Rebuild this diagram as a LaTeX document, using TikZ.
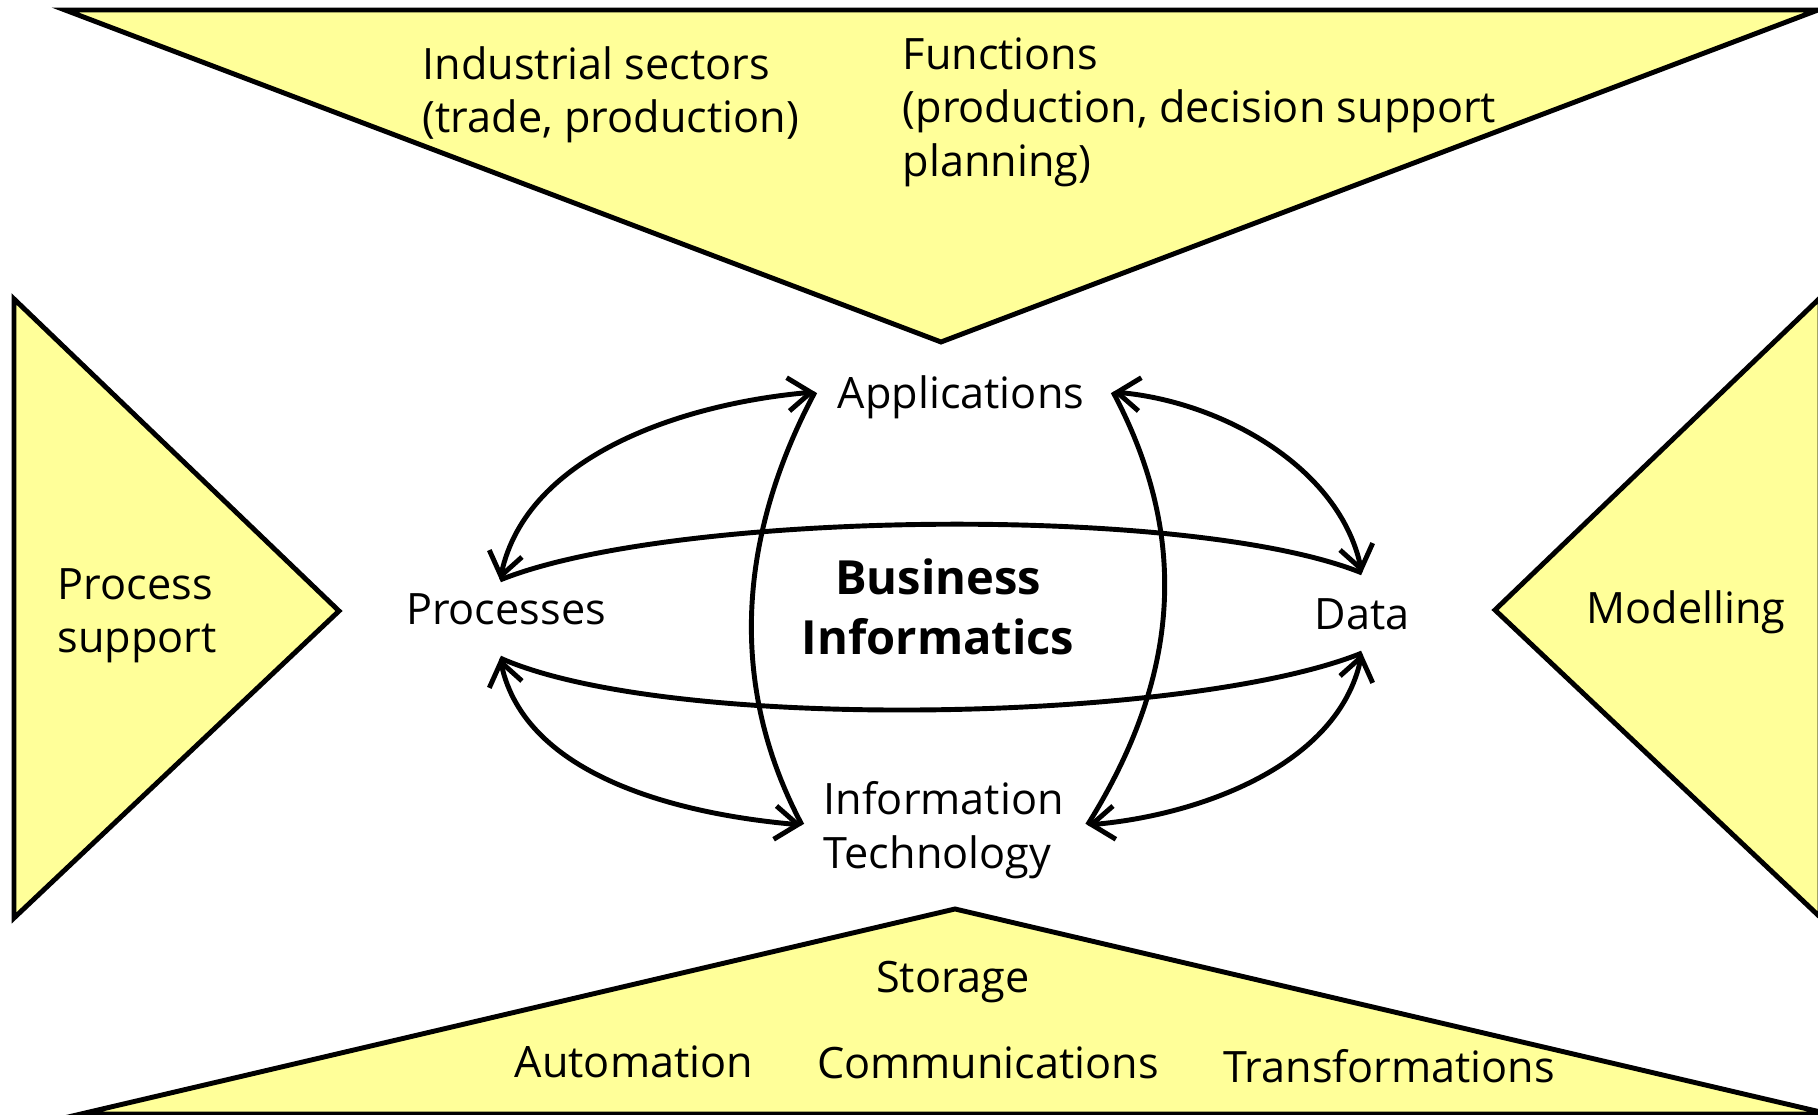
\documentclass[tikz,border=0pt]{standalone}
\usepackage{fontspec}
\setmainfont{Open Sans}
\usetikzlibrary{arrows.meta}
\definecolor{wedgecolor}{RGB}{255, 255, 153}

\begin{document}
\begin{tikzpicture}[
    >={Straight Barb[length=6.5pt, width=9.5pt]},
    wedge/.style={draw, line width=1.4pt, fill=wedgecolor, line join=miter},
    tag/.style={inner sep=0pt, align=left, font=\fontsize{12.3}{15.2}\selectfont},
    pillar/.style={inner sep=0pt, align=left, font=\fontsize{12.3}{15.2}\selectfont},
    core/.style={inner sep=0pt, align=center, font=\fontsize{13.4}{17}\selectfont\bfseries},
    arrow/.style={<->, line width=1.4pt},
    link/.style={line width=1.4pt}
]
\useasboundingbox (0,0) rectangle (18.18,11.15);

% Outer wedges
\draw[wedge] (0.65,11.05) -- (18.18,11.05) -- (9.41,7.73) -- cycle;
\draw[wedge] (0.14,8.16) -- (3.39,5.04) -- (0.14,1.97) -- cycle;
\draw[wedge] (18.20,8.17) -- (14.95,5.05) -- (18.20,1.98) -- cycle;
\draw[wedge] (0.81,0.01) -- (9.55,2.06) -- (18.29,0.01) -- cycle;

% Wedge texts
\node[tag, anchor=north west] (sectors) at (4.22,10.69) {Industrial sectors\\(trade, production)};
\node[tag, anchor=north west] (functions) at (9.02,10.78) {Functions\\(production, decision support\\planning)};
\node[tag, anchor=north west] (support) at (0.57,5.47) {Process\\support};
\node[tag, anchor=base] (modelling) at (16.86,4.91) {Modelling};
\node[tag, anchor=base] (storage) at (9.53,1.22) {Storage};
\node[tag, anchor=base] (automation) at (6.34,0.37) {Automation};
\node[tag, anchor=base] (comms) at (9.88,0.36) {Communications};
\node[tag, anchor=base] (transforms) at (13.89,0.32) {Transformations};

% Centre
\node[core] (bi) at (9.38,5.08) {Business\\Informatics};
\node[pillar, anchor=base] (apps) at (9.61,7.06) {Applications};
\node[pillar, anchor=base] (proc) at (5.06,4.90) {Processes};
\node[pillar, anchor=base] (data) at (13.62,4.85) {Data};
\node[pillar, anchor=west] (itech) at (8.23,2.85) {Information\\Technology};

% Arrow tips next to the pillars
\coordinate (aw) at ([shift={(-1.46,0.17)}]apps.base);
\coordinate (ae) at ([shift={(1.52,0.17)}]apps.base);
\coordinate (pt) at ([shift={(-0.06,0.45)}]proc.base);
\coordinate (pb) at ([shift={(-0.06,-0.33)}]proc.base);
\coordinate (dt) at ([yshift=5.7mm]data.base);
\coordinate (db) at ([yshift=-2.3mm]data.base);
\coordinate (iw) at ([shift={(-0.21,0.05)}]itech.west);
\coordinate (ie) at ([shift={(0.23,0.05)}]itech.east);

% Links between the pillars
\draw[arrow] (aw) to[out=185, in=78, looseness=0.9] (pt);
\draw[arrow] (ae) to[out=-5, in=102, looseness=0.9] (dt);
\draw[arrow] (pb) to[out=-78, in=175, looseness=0.9] (iw);
\draw[arrow] (db) to[out=-102, in=5, looseness=0.9] (ie);
\draw[link] (pt) to[out=22, in=158, looseness=0.55] (dt);
\draw[link] (pb) to[out=-24, in=-158, looseness=0.55] (db);
\draw[link] (aw) to[out=242, in=118, looseness=0.95] (iw);
\draw[link] (ae) to[out=-62, in=58] (ie);

\end{tikzpicture}
\end{document}
